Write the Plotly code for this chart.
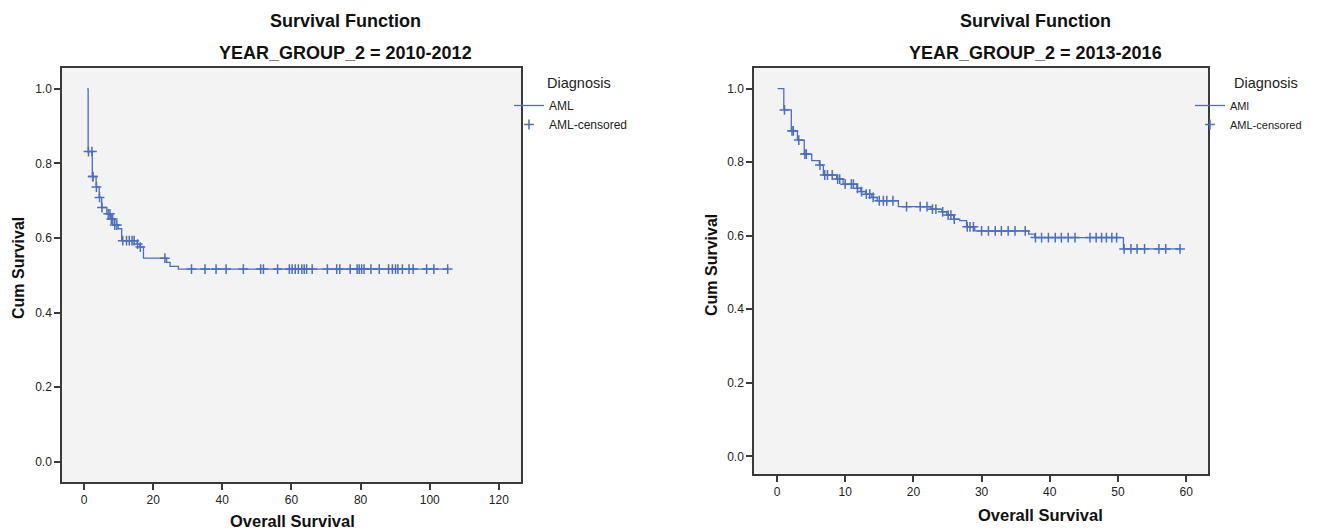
import plotly.graph_objects as go

# ---------------- data ----------------
# Left panel: YEAR_GROUP_2 = 2010-2012
left_step_times = [0.9, 1.2, 2.4, 3.5, 4.4, 5.1, 6.6, 7.7, 8.8, 9.9, 10.9, 15.4, 16.2, 17.2,
                   22.9, 23.9, 24.9, 27.3, 105.2]
left_step_surv = [1.0, 0.832, 0.765, 0.737, 0.709, 0.682, 0.665, 0.651, 0.635, 0.625, 0.593,
                  0.584, 0.576, 0.546, 0.546, 0.535, 0.524, 0.517, 0.517]
left_censor_times = [1.3, 2.3, 2.5, 2.6, 3.6, 4.5, 5.2, 7.0, 7.5, 7.9, 8.3, 8.9, 9.5,
                     11.2, 12.3, 13.1, 13.9, 14.5, 15.5, 16.3, 23.4,
                     31.1, 35.0, 38.2, 41.1, 46.1, 51.1, 51.9, 56.0, 59.4, 60.2, 61.1, 62.0,
                     63.0, 63.7, 64.4, 66.0, 70.4, 73.1, 74.0, 77.0, 79.0, 79.6, 80.3, 81.0,
                     83.0, 85.4, 88.1, 89.2, 90.1, 90.8, 92.1, 94.0, 95.2, 99.1, 101.2, 105.2]

# Right panel: YEAR_GROUP_2 = 2013-2016
right_step_times = [0.1, 1.0, 2.1, 3.0, 4.0, 5.1, 6.2, 6.8, 8.75, 9.7, 11.7, 12.3, 13.0, 13.9,
                    14.7, 17.8, 22.5, 24.2, 24.9, 25.9, 26.8, 27.8, 29.0, 36.9, 37.8, 50.8, 59.3]
right_step_surv = [1.0, 0.942, 0.885, 0.860, 0.822, 0.804, 0.792, 0.765, 0.754, 0.740, 0.729,
                   0.720, 0.713, 0.704, 0.695, 0.679, 0.672, 0.665, 0.656, 0.645, 0.641, 0.624,
                   0.613, 0.604, 0.595, 0.564, 0.564]
right_censor_times = [1.1, 2.2, 2.4, 3.2, 4.1, 4.3, 6.3, 7.0, 7.4, 8.1, 8.9, 9.2, 10.0, 10.9,
                      11.2, 11.8, 12.4, 13.1, 13.6, 14.1, 15.0, 15.6, 16.1, 17.0, 19.0, 21.0,
                      22.0, 22.8, 23.3, 24.3, 25.1, 25.5, 26.0, 27.9, 28.3, 28.8, 30.0, 31.0,
                      32.0, 32.9, 33.9, 34.9, 36.4, 37.9, 38.8, 39.8, 40.8, 41.7, 42.7, 43.7,
                      45.9, 46.8, 47.6, 48.3, 49.1, 49.8, 50.9, 51.9, 52.8, 53.9, 56.0, 57.0,
                      59.1]

left_x_ticks = [0, 20, 40, 60, 80, 100, 120]
right_x_ticks = [0, 10, 20, 30, 40, 50, 60]
y_ticks = [0.0, 0.2, 0.4, 0.6, 0.8, 1.0]
y_tick_labels = ["0.0", "0.2", "0.4", "0.6", "0.8", "1.0"]


def surv_at(t, times, surv):
    s = surv[0]
    for ti, si in zip(times, surv):
        if ti <= t:
            s = si
    return s


# page body has an 8px margin: figure origin sits at page (8, 8)
OFF = 8
W, H = 1317 - OFF, 531 - OFF
BLUE = "#4A6FC1"
FONT = "Liberation Sans"

fig = go.Figure()

panels = [
    ("x", "y", "legend", left_step_times, left_step_surv, left_censor_times, "AML"),
    ("x2", "y2", "legend2", right_step_times, right_step_surv, right_censor_times, "AMl"),
]
for xa, ya, lg, st, ss, ct, name in panels:
    fig.add_trace(go.Scatter(
        x=st, y=ss, mode="lines", line=dict(color=BLUE, width=1.3, shape="hv"),
        name=name, xaxis=xa, yaxis=ya, legend=lg))
    fig.add_trace(go.Scatter(
        x=ct, y=[surv_at(t, st, ss) for t in ct], mode="markers+lines",
        line=dict(color=BLUE, width=0),
        marker=dict(symbol="cross-thin", size=7, line=dict(color=BLUE, width=1.5)),
        name="AML-censored", xaxis=xa, yaxis=ya, legend=lg))

axis_common = dict(showgrid=False, zeroline=False, showline=True, linecolor="#3a3a3a",
                   linewidth=1.5, mirror=True, ticks="outside", ticklen=6, tickwidth=1.5,
                   tickcolor="#3a3a3a", automargin=False,
                   tickfont=dict(family=FONT, size=12, color="#222"))


def px_x(p):
    return (p - OFF) / W


def px_y(p):
    return 1 - (p - OFF) / H


def legend_style(size):
    return dict(xanchor="left", yanchor="top", bgcolor="rgba(0,0,0,0)",
                tracegroupgap=0, itemwidth=30, borderwidth=0,
                font=dict(family=FONT, size=size, color="#222"))


fig.update_layout(
    width=W, height=H, margin=dict(l=0, r=0, t=0, b=0, autoexpand=False),
    paper_bgcolor="white", plot_bgcolor="#f3f3f3",
    xaxis=dict(domain=[px_x(62), px_x(521)], range=[-6.36, 126.4], tickvals=left_x_ticks,
               anchor="y", **axis_common),
    yaxis=dict(domain=[px_y(482), px_y(68)], range=[-0.054, 1.056], tickvals=y_ticks,
               ticktext=y_tick_labels, anchor="x", **axis_common),
    xaxis2=dict(domain=[px_x(754), px_x(1208)], range=[-3.37, 63.2], tickvals=right_x_ticks,
                anchor="y2", **axis_common),
    yaxis2=dict(domain=[px_y(474), px_y(68)], range=[-0.048, 1.056], tickvals=y_ticks,
                ticktext=y_tick_labels, anchor="x2", **axis_common),
    legend=dict(x=px_x(509), y=px_y(91), **legend_style(12)),
    legend2=dict(x=px_x(1190), y=px_y(91), **legend_style(11)),
    showlegend=True,
)

ann = []
titles = [
    (345, "YEAR_GROUP_2 = 2010-2012", 292, 521, 18, 268, 545),
    (1035, "YEAR_GROUP_2 = 2013-2016", 1040, 515, 711, 265, 1232),
]
for cx, sub, xtx, xty, ytx, yty, lgx in titles:
    ann.append(dict(x=px_x(cx), y=px_y(21), xref="paper", yref="paper", showarrow=False,
                    xanchor="center", yanchor="middle",
                    text="<b>Survival Function</b>", font=dict(family=FONT, size=18, color="#111")))
    ann.append(dict(x=px_x(cx), y=px_y(53), xref="paper", yref="paper", showarrow=False,
                    xanchor="center", yanchor="middle",
                    text="<b>" + sub + "</b>", font=dict(family=FONT, size=18, color="#111")))
    ann.append(dict(x=px_x(xtx), y=px_y(xty), xref="paper", yref="paper", showarrow=False,
                    xanchor="center", yanchor="middle",
                    text="<b>Overall Survival</b>", font=dict(family=FONT, size=16.5, color="#111")))
    ann.append(dict(x=px_x(ytx), y=px_y(yty), xref="paper", yref="paper", showarrow=False,
                    xanchor="center", yanchor="middle",
                    textangle=-90, text="<b>Cum Survival</b>",
                    font=dict(family=FONT, size=16, color="#111")))
    ann.append(dict(x=px_x(lgx), y=px_y(83), xref="paper", yref="paper", showarrow=False,
                    xanchor="left", yanchor="middle",
                    text="Diagnosis", font=dict(family=FONT, size=14.5, color="#222")))
fig.update_layout(annotations=ann)

fig.write_html("out.html")
